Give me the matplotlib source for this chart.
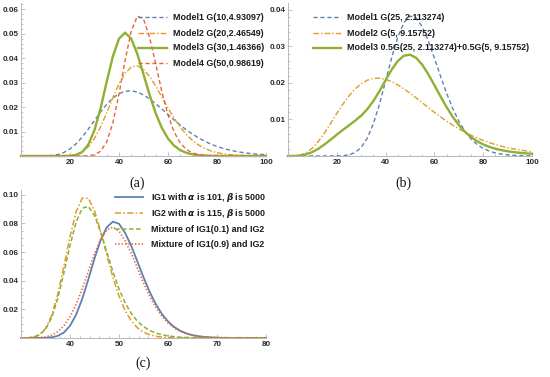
import matplotlib
matplotlib.use("Agg")
import matplotlib.pyplot as plt
from matplotlib.lines import Line2D
from matplotlib.ticker import MultipleLocator, FixedLocator
import numpy as np

# ---------------- data ----------------
# panel (a): gamma densities, sampled every 2.5 from 0 to 100
xa = np.linspace(0, 100, 41)
a_m1 = [0, 0, 0, 0.000005, 0.000043, 0.000191, 0.000595, 0.001437, 0.002876, 0.00500,
        0.00777, 0.01103, 0.01454, 0.01802, 0.02113, 0.02369, 0.02550, 0.02650, 0.02670, 0.02616,
        0.02500, 0.02336, 0.02139, 0.01922, 0.01698, 0.01476, 0.01266, 0.01070, 0.00895, 0.00739,
        0.00604, 0.00489, 0.00391, 0.00311, 0.00245, 0.00192, 0.00149, 0.00115, 0.00088, 0.00067,
        0.00051]
a_m2 = [0, 0, 0, 0, 0, 0, 0.000006, 0.000041, 0.000188, 0.000638,
        0.001714, 0.00380, 0.00721, 0.01196, 0.01774, 0.02387, 0.02951, 0.03388, 0.03640, 0.03689,
        0.03547, 0.03251, 0.02854, 0.02409, 0.01962, 0.01546, 0.01182, 0.00878, 0.00636, 0.00449,
        0.00310, 0.00210, 0.00139, 0.00091, 0.00058, 0.00036, 0.00023, 0.00014, 0.00008, 0.00005,
        0.00003]
a_m3 = [0, 0, 0, 0, 0, 0, 0, 0.000009, 0.000077, 0.000424,
        0.00163, 0.00469, 0.01060, 0.01958, 0.03044, 0.04077, 0.04800, 0.05047, 0.04799, 0.04171,
        0.03345, 0.02495, 0.01743, 0.01147, 0.00714, 0.00422, 0.00239, 0.00129, 0.00067, 0.00034,
        0.00016, 0.00008, 0.00003, 0, 0, 0, 0, 0, 0, 0,
        0]
a_m4 = [0, 0, 0, 0, 0, 0, 0, 0, 0, 0,
        0.00001, 0.000086, 0.000485, 0.00194, 0.00581, 0.01355, 0.02537, 0.03917, 0.05109, 0.05727,
        0.05605, 0.04852, 0.03757, 0.02630, 0.01677, 0.00982, 0.00532, 0.00268, 0.00126, 0.00056,
        0.00023, 0.00009, 0.00003, 0, 0, 0, 0, 0, 0, 0,
        0]
a_labels = ["Model1 G(10,4.93097)", "Model2 G(20,2.46549)",
            "Model3 G(30,1.46366)", "Model4 G(50,0.98619)"]

# panel (b): two gamma densities and their 50/50 mixture
xb = np.linspace(0, 100, 41)
b_m1 = [0, 0, 0, 0, 0, 0, 0, 0, 0.000016, 0.000082,
        0.000314, 0.000945, 0.00234, 0.00490, 0.00888, 0.01425, 0.02054, 0.02696, 0.03256, 0.03651,
        0.03831, 0.03785, 0.03542, 0.03152, 0.02682, 0.02189, 0.01720, 0.01303, 0.00955, 0.00679,
        0.00470, 0.00316, 0.00208, 0.00133, 0.00083, 0.00051, 0.00031, 0.00018, 0.00011, 0.00006,
        0.00004]
b_m2 = [0, 0.000019, 0.000234, 0.000902, 0.00217, 0.00403, 0.00637, 0.00898, 0.01166, 0.01421,
        0.01648, 0.01837, 0.01980, 0.02076, 0.02125, 0.02131, 0.02100, 0.02037, 0.01948, 0.01841,
        0.01720, 0.01591, 0.01459, 0.01326, 0.01197, 0.01072, 0.00955, 0.00845, 0.00744, 0.00652,
        0.00568, 0.00493, 0.00426, 0.00367, 0.00314, 0.00269, 0.00229, 0.00194, 0.00165, 0.00139,
        0.00117]
b_m3 = [0, 0.00001, 0.000117, 0.000451, 0.001085, 0.002015, 0.003185, 0.00449, 0.00584, 0.00715,
        0.00840, 0.00966, 0.01107, 0.01283, 0.01507, 0.01778, 0.02077, 0.02367, 0.02602, 0.02746,
        0.02776, 0.02688, 0.02501, 0.02239, 0.01940, 0.01631, 0.01338, 0.01074, 0.00850, 0.00666,
        0.00519, 0.00405, 0.00317, 0.00250, 0.00199, 0.00160, 0.00130, 0.00106, 0.00088, 0.00073,
        0.00061]
b_labels = ["Model1 G(25, 2.113274)", "Model2 G(5, 9.15752)",
            "Model3 0.5G(25, 2.113274)+0.5G(5, 9.15752)"]

# panel (c): inverse gamma densities and mixtures, sampled every 1.25 from 30 to 80
xc = np.linspace(30, 80, 41)
c_ig1 = [0, 0, 0.000004, 0.000025, 0.000123, 0.000472, 0.001475, 0.00384, 0.00850, 0.01627,
         0.02736, 0.04098, 0.05542, 0.06824, 0.07728, 0.08120, 0.07973, 0.07333, 0.06432, 0.05342,
         0.04242, 0.03231, 0.02370, 0.01680, 0.01157, 0.00774, 0.00504, 0.00321, 0.00200, 0.00123,
         0.00074, 0.00044, 0.00025, 0.00015, 0.00008, 0.00005, 0.00003, 0.00002, 0.00001, 0.00001,
         0]
c_ig2 = [0.000018, 0.000122, 0.000606, 0.00227, 0.00664, 0.01561, 0.03043, 0.05004, 0.07087, 0.08814,
         0.09762, 0.09751, 0.08887, 0.07450, 0.05813, 0.04250, 0.02925, 0.01913, 0.01193, 0.00713,
         0.00410, 0.00228, 0.00123, 0.00065, 0.00033, 0.00017, 0.00008, 0.00004, 0.00002, 0,
         0, 0, 0, 0, 0, 0, 0, 0, 0, 0,
         0]
c_mix1 = [0.000016, 0.00011, 0.000546, 0.002046, 0.005988, 0.014096, 0.027535, 0.04542, 0.06463, 0.08095,
          0.09059, 0.09186, 0.08553, 0.07387, 0.06005, 0.04637, 0.03430, 0.02455, 0.01717, 0.01176,
          0.00793, 0.00528, 0.00348, 0.00227, 0.00145, 0.00093, 0.00058, 0.00036, 0.00022, 0.00012,
          0.00007, 0.00004, 0.00003, 0.00002, 0.00001, 0, 0, 0, 0, 0,
          0]
c_mix9 = [0.000002, 0.000012, 0.000064, 0.00025, 0.000775, 0.00199, 0.00437, 0.00846, 0.01474, 0.02346,
          0.03439, 0.04663, 0.05877, 0.06887, 0.07537, 0.07733, 0.07468, 0.06791, 0.05908, 0.04879,
          0.03859, 0.02931, 0.02145, 0.01519, 0.01045, 0.00698, 0.00454, 0.00289, 0.00180, 0.00111,
          0.00067, 0.00040, 0.00023, 0.00014, 0.00007, 0.00005, 0.00003, 0.00002, 0.00001, 0.00001,
          0]
c_labels = [r"IG1 with $\boldsymbol{\alpha}$ is 101, $\boldsymbol{\beta}$ is 5000",
            r"IG2 with $\boldsymbol{\alpha}$ is 115, $\boldsymbol{\beta}$ is 5000",
            "Mixture of IG1(0.1) and IG2",
            "Mixture of IG1(0.9) and IG2"]

# Mathematica default colours
BLUE = "#5E81B5"
ORANGE = "#E19C24"
GREEN = "#8FB032"
RED = "#EB6235"

W, H = 550, 377
fig = plt.figure(figsize=(W / 100, H / 100), dpi=100)


def fx(px):
    return px / W


def fy(py):
    return 1 - py / H


def make_axes(left, right, top, bottom):
    ax = fig.add_axes([fx(left), fy(bottom), fx(right) - fx(left), (bottom - top) / H])
    for s in ["top", "right"]:
        ax.spines[s].set_visible(False)
    for s in ["left", "bottom"]:
        ax.spines[s].set_color("#b8b8b8")
        ax.spines[s].set_linewidth(0.7)
    ax.tick_params(which="both", direction="in", color="#b8b8b8", width=0.6,
                   labelsize=5.8, labelcolor="#2a2a2a", pad=2)
    ax.tick_params(which="major", length=3)
    ax.tick_params(which="minor", length=1.5)
    return ax


def style_ticks(ax):
    for lab in ax.get_xticklabels() + ax.get_yticklabels():
        lab.set_fontweight("bold")
        lab.set_family("Liberation Sans")


def legend_rows(x0, x1, xt, rows, styles, labels):
    for y, st, lab in zip(rows, styles, labels):
        fig.add_artist(Line2D([fx(x0), fx(x1)], [fy(y), fy(y)], transform=fig.transFigure, **st))
        fig.text(fx(xt), fy(y), lab, ha="left", va="center", fontsize=6.4,
                 fontweight="bold", family="Liberation Sans", color="#1a1a1a")


s_blue = dict(color=BLUE, lw=1.0, dashes=(3, 2))
s_orange = dict(color=ORANGE, lw=1.0, dashes=(4, 1.5, 1, 1.5))
s_green = dict(color=GREEN, lw=1.7)
s_red = dict(color=RED, lw=1.0, dashes=(3, 2))

# ---------------- panel (a) ----------------
ax = make_axes(21, 266, 3, 156)
for y, st in zip([a_m1, a_m2, a_m3, a_m4], [s_blue, s_orange, s_green, s_red]):
    ax.plot(xa, y, clip_on=False, **st)
ax.set_xlim(0, 100)
ax.set_ylim(0, 0.0626)
ax.xaxis.set_major_locator(FixedLocator([20, 40, 60, 80, 100]))
ax.xaxis.set_minor_locator(MultipleLocator(5))
ax.yaxis.set_major_locator(FixedLocator([0.01, 0.02, 0.03, 0.04, 0.05, 0.06]))
ax.yaxis.set_minor_locator(MultipleLocator(0.002))
ax.set_yticklabels(["0.01", "0.02", "0.03", "0.04", "0.05", "0.06"])
style_ticks(ax)
legend_rows(138, 167, 173, [17, 33, 48, 63], [s_blue, s_orange, s_green, s_red], a_labels)

# ---------------- panel (b) ----------------
ax = make_axes(288, 532, 3, 156)
for y, st in zip([b_m1, b_m2, b_m3], [s_blue, s_orange, s_green]):
    ax.plot(xb, y, clip_on=False, **st)
ax.set_xlim(0, 100)
ax.set_ylim(0, 0.0419)
ax.xaxis.set_major_locator(FixedLocator([20, 40, 60, 80, 100]))
ax.xaxis.set_minor_locator(MultipleLocator(5))
ax.yaxis.set_major_locator(FixedLocator([0.01, 0.02, 0.03, 0.04]))
ax.yaxis.set_minor_locator(MultipleLocator(0.002))
ax.set_yticklabels(["0.01", "0.02", "0.03", "0.04"])
style_ticks(ax)
legend_rows(313, 341, 347, [17, 33, 48], [s_blue, s_orange, s_green], b_labels)

# ---------------- panel (c) ----------------
c_blue = dict(color=BLUE, lw=1.3)
c_orange = dict(color=ORANGE, lw=1.1, dashes=(4, 1.5, 1, 1.5))
c_green = dict(color=GREEN, lw=1.1, dashes=(3, 1.6))
c_red = dict(color=RED, lw=1.2, dashes=(0.8, 1.2))
ax = make_axes(21, 266, 190, 338)
for y, st in zip([c_ig1, c_ig2, c_mix1, c_mix9], [c_blue, c_orange, c_green, c_red]):
    ax.plot(xc, y, clip_on=False, **st)
ax.set_xlim(30, 80)
ax.set_ylim(0, 0.1033)
ax.xaxis.set_major_locator(FixedLocator([40, 50, 60, 70, 80]))
ax.xaxis.set_minor_locator(MultipleLocator(2))
ax.yaxis.set_major_locator(FixedLocator([0.02, 0.04, 0.06, 0.08, 0.10]))
ax.yaxis.set_minor_locator(MultipleLocator(0.005))
ax.set_yticklabels(["0.02", "0.04", "0.06", "0.08", "0.10"])
style_ticks(ax)
legend_rows(115, 143, 151, [197, 213, 229, 244], [c_blue, c_orange, c_green, c_red], c_labels)

# sub-figure captions
for lab, x, y in [("(a)", 137, 183), ("(b)", 403, 183), ("(c)", 143, 363)]:
    fig.text(fx(x), fy(y), lab, ha="center", va="center", fontsize=10,
             family="Liberation Serif", color="#111111")

fig.savefig("out.png", dpi=100)
